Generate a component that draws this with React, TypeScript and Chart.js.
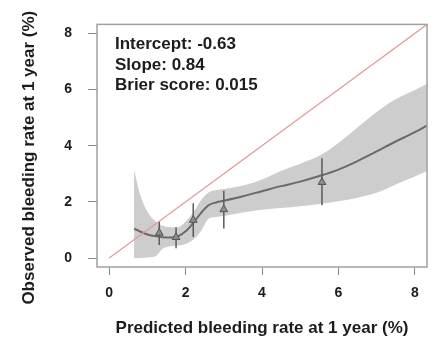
import { useEffect, useRef } from "react";
import { Chart, registerables } from "chart.js";

Chart.register(...registerables);

// ---- data ----
const xTicks = [0, 2, 4, 6, 8];
const yTicks = [0, 2, 4, 6, 8];
const axisMin = -0.32;
const axisMax = 8.32;

const gridX = [0.65, 0.8, 1.0, 1.2, 1.4, 1.6, 1.8, 2.0, 2.2, 2.4, 2.6, 2.8, 3.0, 3.5, 4.0, 4.5, 5.0, 5.5, 6.0, 6.5, 7.0, 7.5, 8.0, 8.32];
const curveY = [1.05, 0.95, 0.84, 0.78, 0.74, 0.73, 0.77, 0.95, 1.25, 1.6, 1.88, 1.98, 2.04, 2.2, 2.38, 2.56, 2.72, 2.92, 3.15, 3.45, 3.8, 4.15, 4.48, 4.72];
const bandUpper = [3.15, 2.3, 1.65, 1.32, 1.15, 1.1, 1.1, 1.3, 1.62, 2.05, 2.33, 2.42, 2.46, 2.58, 2.8, 3.1, 3.36, 3.64, 4.1, 4.65, 5.2, 5.65, 5.98, 6.2];
const bandLower = [0.0, 0.0, 0.02, 0.05, 0.33, 0.42, 0.45, 0.5, 0.65, 0.95, 1.4, 1.46, 1.5, 1.62, 1.72, 1.78, 1.84, 1.92, 2.02, 2.15, 2.32, 2.62, 2.9, 3.1];

const groupX = [1.31, 1.75, 2.2, 3.0, 5.57];
const groupObs = [0.89, 0.74, 1.35, 1.73, 2.7];
const groupLo = [0.46, 0.35, 0.75, 1.05, 1.88];
const groupHi = [1.28, 1.1, 1.95, 2.4, 3.55];

const identityX = [0, 8.32];

const statsLines = ["Intercept: -0.63", "Slope: 0.84", "Brier score: 0.015"];
const xTitle = "Predicted bleeding rate at 1 year (%)";
const yTitle = "Observed bleeding rate at 1 year (%)";

const FONT = "'Liberation Sans', Arial, sans-serif";
const TEXT = "#1c1c1c";

const decorPlugin = {
  id: "decor",
  afterDatasetsDraw(chart: any) {
    const { ctx, chartArea } = chart;
    ctx.save();
    // box
    ctx.strokeStyle = "#a0a0a0";
    ctx.lineWidth = 1.5;
    ctx.strokeRect(chartArea.left, chartArea.top, chartArea.right - chartArea.left, chartArea.bottom - chartArea.top);
    // stats text
    ctx.fillStyle = TEXT;
    ctx.font = `bold 17px ${FONT}`;
    ctx.textAlign = "left";
    ctx.textBaseline = "alphabetic";
    statsLines.forEach((t, i) => {
      ctx.fillText(t, chartArea.left + 18, chartArea.top + 25 + i * 20.5);
    });
    // y title
    ctx.translate(29, (chartArea.top + chartArea.bottom) / 2 + 12);
    ctx.rotate(-Math.PI / 2);
    ctx.textAlign = "center";
    ctx.textBaseline = "middle";
    ctx.fillText(yTitle, 0, 0);
    ctx.restore();
  },
};

export default function App() {
  const ref = useRef<HTMLCanvasElement | null>(null);

  useEffect(() => {
    document.body.style.margin = "0";
    const canvas = ref.current;
    if (!canvas) return;

    const pts = (xs: number[], ys: number[]) => xs.map((x, i) => ({ x, y: ys[i] }));

    const datasets: any[] = [
      {
        data: pts(gridX, bandUpper),
        borderWidth: 0,
        pointRadius: 0,
        backgroundColor: "#cdcdcd",
        fill: "+1",
        cubicInterpolationMode: "monotone",
        order: 10,
      },
      {
        data: pts(gridX, bandLower),
        borderWidth: 0,
        pointRadius: 0,
        fill: false,
        cubicInterpolationMode: "monotone",
        order: 10,
      },
      {
        data: pts(gridX, curveY),
        borderColor: "#6a6a6a",
        borderWidth: 2,
        pointRadius: 0,
        fill: false,
        cubicInterpolationMode: "monotone",
        order: 5,
      },
      {
        data: pts(identityX, identityX),
        borderColor: "#e29a9a",
        borderWidth: 1.2,
        pointRadius: 0,
        fill: false,
        order: 4,
      },
      ...groupX.map((x, i) => ({
        data: [
          { x, y: groupLo[i] },
          { x, y: groupHi[i] },
        ],
        borderColor: "#5a5a5a",
        borderWidth: 1.5,
        pointRadius: 0,
        fill: false,
        order: 3,
      })),
      {
        data: pts(groupX, groupObs),
        showLine: false,
        pointStyle: "triangle",
        pointRadius: 4.5,
        backgroundColor: "#8c8c8c",
        borderColor: "#555555",
        borderWidth: 1,
        order: 1,
      },
    ];

    const chart = new Chart(canvas, {
      type: "line",
      data: { datasets },
      options: {
        animation: false,
        responsive: false,
        events: [],
        layout: { padding: { left: 0, top: 23, right: 7, bottom: 0 } },
        plugins: { legend: { display: false }, tooltip: { enabled: false } },
        scales: {
          x: {
            type: "linear",
            min: axisMin,
            max: axisMax,
            afterBuildTicks: (s: any) => {
              s.ticks = xTicks.map((v) => ({ value: v }));
            },
            afterFit: (s: any) => {
              s.height = 76;
            },
            grid: { display: true, drawOnChartArea: false, drawTicks: true, tickLength: 8, color: "#8a8a8a" },
            border: { display: false },
            ticks: { color: TEXT, font: { family: FONT, size: 14, weight: "bold" }, padding: 10, maxRotation: 0 },
            title: {
              display: true,
              text: xTitle,
              color: TEXT,
              font: { family: FONT, size: 17, weight: "bold" },
              padding: { top: 0, bottom: 4 },
            },
          },
          y: {
            type: "linear",
            min: axisMin,
            max: axisMax,
            afterBuildTicks: (s: any) => {
              s.ticks = yTicks.map((v) => ({ value: v }));
            },
            afterFit: (s: any) => {
              s.width = 97;
            },
            grid: { display: true, drawOnChartArea: false, drawTicks: true, tickLength: 9, color: "#8a8a8a" },
            border: { display: false },
            ticks: { color: TEXT, font: { family: FONT, size: 14, weight: "bold" }, padding: 16 },
          },
        },
      } as any,
      plugins: [decorPlugin],
    });

    return () => chart.destroy();
  }, []);

  return (
    <div style={{ width: 434, height: 343, background: "#fff" }}>
      <canvas ref={ref} width={434} height={343} style={{ display: "block" }} />
    </div>
  );
}
